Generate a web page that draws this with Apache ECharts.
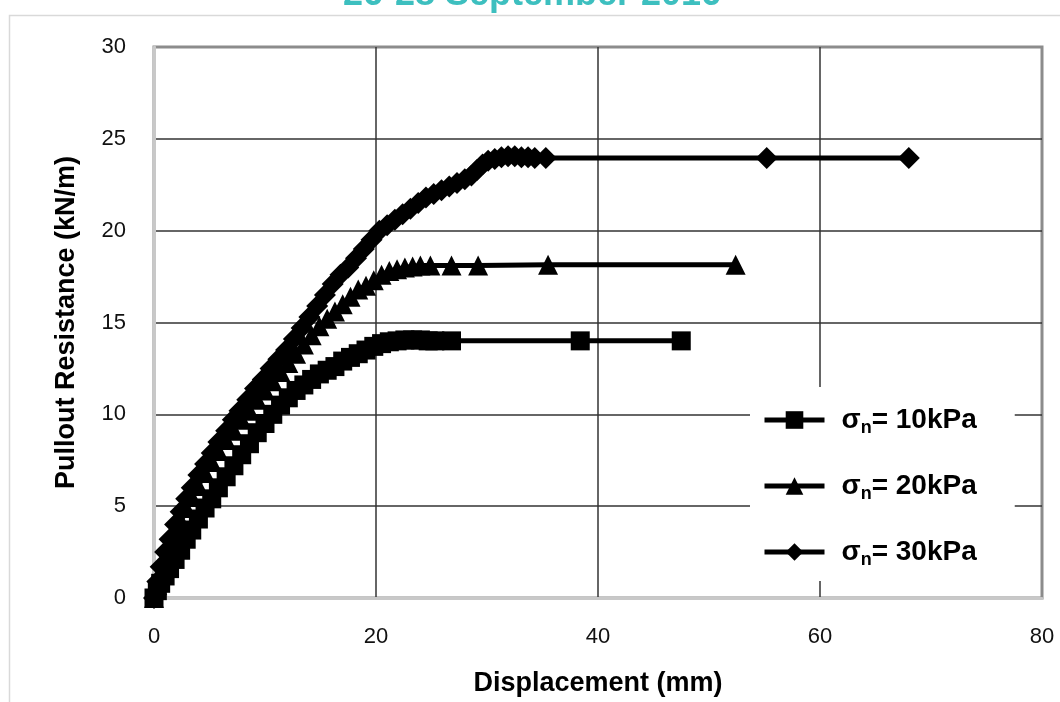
<!DOCTYPE html>
<html>
<head>
<meta charset="utf-8">
<script src="https://cdn.jsdelivr.net/npm/echarts@6/dist/echarts.min.js"></script>
<style>
html, body { margin: 0; padding: 0; background: #fff; }
#chart { width: 1060px; height: 702px; }
</style>
</head>
<body>
<div id="chart"></div>
<script>
// displacement (mm) and pullout resistance (kN/m)
const disp10 = [0, 0.3, 0.6, 1.0, 1.4, 1.9, 2.4, 2.9, 3.4, 4.0, 4.6, 5.2, 5.8, 6.5, 7.2, 7.9, 8.6, 9.3, 10.0, 10.7, 11.4, 12.1, 12.8, 13.5, 14.2, 14.9, 15.6, 16.3, 17.0, 17.7, 18.4, 19.1, 19.8, 20.5, 21.2, 21.9, 22.6, 23.3, 24.0, 24.7, 25.3, 26.8, 38.4, 47.5]
const res10 = [0, 0.4, 0.8, 1.2, 1.6, 2.1, 2.6, 3.2, 3.7, 4.3, 4.9, 5.4, 6.0, 6.6, 7.2, 7.8, 8.4, 9.0, 9.5, 10.0, 10.5, 10.9, 11.3, 11.6, 11.9, 12.2, 12.4, 12.6, 12.9, 13.1, 13.3, 13.5, 13.7, 13.85, 13.95, 14.0, 14.05, 14.05, 14.05, 14.0, 14.0, 14.0, 14.0, 14.0]

const disp20 = [0, 0.3, 0.6, 1.0, 1.4, 1.9, 2.4, 2.9, 3.4, 4.0, 4.6, 5.2, 5.8, 6.5, 7.2, 7.9, 8.6, 9.3, 10.0, 10.7, 11.4, 12.1, 12.8, 13.5, 14.2, 14.9, 15.6, 16.3, 17.0, 17.7, 18.4, 19.1, 19.8, 20.5, 21.2, 21.9, 22.6, 23.3, 24.0, 24.9, 26.8, 29.2, 35.5, 52.4]
const res20 = [0, 0.7, 1.4, 2.1, 2.8, 3.6, 4.2, 4.9, 5.5, 6.1, 6.8, 7.4, 8.0, 8.6, 9.1, 9.7, 10.2, 10.8, 11.3, 11.8, 12.3, 12.8, 13.3, 13.8, 14.3, 14.8, 15.2, 15.6, 16.0, 16.4, 16.8, 17.0, 17.3, 17.6, 17.8, 17.9, 18.0, 18.05, 18.1, 18.1, 18.1, 18.1, 18.15, 18.15]

const disp30 = [0, 0.3, 0.6, 1.0, 1.4, 1.9, 2.4, 2.9, 3.4, 4.0, 4.6, 5.2, 5.8, 6.5, 7.1, 7.7, 8.4, 9.1, 9.8, 10.5, 11.2, 11.9, 12.6, 13.3, 14.0, 14.7, 15.4, 16.1, 16.8, 17.5, 18.2, 18.9, 19.6, 20.3, 21.0, 21.7, 22.4, 23.1, 23.8, 24.5, 25.2, 25.9, 26.6, 27.3, 28.0, 28.6, 29.1, 29.6, 30.1, 30.7, 31.3, 31.9, 32.5, 33.1, 33.7, 34.3, 35.3, 55.2, 68.0]
const res30 = [0, 0.9, 1.7, 2.5, 3.2, 4.0, 4.7, 5.4, 6.0, 6.7, 7.3, 7.9, 8.5, 9.1, 9.7, 10.2, 10.8, 11.4, 11.9, 12.5, 13.0, 13.5, 14.1, 14.7, 15.3, 15.9, 16.5, 17.1, 17.6, 18.0, 18.5, 19.0, 19.5, 20.0, 20.3, 20.6, 20.9, 21.2, 21.5, 21.8, 22.0, 22.2, 22.4, 22.6, 22.8, 23.0, 23.3, 23.6, 23.8, 23.9, 24.0, 24.05, 24.05, 24.0, 24.0, 23.95, 23.95, 23.95, 23.95]

const seriesNames = ['10kPa', '20kPa', '30kPa']
const titleText = '26-28 September 2016'

const font = 'Liberation Sans'
let pairs = (xs, ys) => xs.map((x, i) => [x, ys[i]])

let makeSeries = (name, data, symbol, size) => {
    return {
        name: name,
        type: 'line',
        data: data,
        symbol: symbol,
        symbolSize: size,
        showAllSymbol: true,
        animation: false,
        itemStyle: { color: '#000' },
        lineStyle: { color: '#000', width: 5 },
    }
}

const gridLine = '#333'
let myChart = echarts.init(document.getElementById('chart'))
let option = {
    backgroundColor: '#fff',
    graphic: [
        {
            type: 'rect',
            left: 7, top: 13,
            shape: { width: 1100, height: 800 },
            style: { fill: 'none', stroke: '#d9d9d9', lineWidth: 1.5 },
            z: -10
        },
        {
            type: 'text',
            x: 532, y: 13,
            style: {
                text: titleText,
                fill: '#3dbfbf',
                font: 'bold 36px "' + font + '"',
                align: 'center',
                verticalAlign: 'bottom'
            }
        }
    ],
    grid: {
        left: 154, right: 18, top: 47, bottom: 100,
        show: true,
        borderColor: '#8c8c8c',
        borderWidth: 3
    },
    legend: {
        orient: 'vertical',
        left: 750, top: 387,
        backgroundColor: '#fff',
        padding: [19, 38, 12, 12],
        itemWidth: 60,
        itemHeight: 22,
        itemGap: 35,
        data: seriesNames,
        lineStyle: { color: '#000', width: 5 },
        formatter: function (name) {
            return '{s|σ}{n|n}{s|= ' + name + '}'
        },
        textStyle: {
            color: '#000',
            padding: [0, 0, 0, 12],
            rich: {
                s: { fontFamily: font, fontSize: 28, fontWeight: 'bold', color: '#000' },
                n: { fontFamily: font, fontSize: 18, fontWeight: 'bold', color: '#000', padding: [16, 0, 0, 0] }
            }
        }
    },
    xAxis: {
        type: 'value',
        min: 0, max: 80, interval: 20,
        name: 'Displacement (mm)',
        nameLocation: 'middle',
        nameGap: 72,
        nameTextStyle: { fontFamily: font, fontSize: 27, fontWeight: 'bold', color: '#000' },
        axisLine: { show: true, lineStyle: { color: '#c8c8c8', width: 3 } },
        axisTick: { show: false },
        axisLabel: { fontFamily: font, fontSize: 22, color: '#111', margin: 28 },
        splitLine: {
            show: true,
            lineStyle: { color: ['rgba(0,0,0,0)', gridLine, gridLine, gridLine, 'rgba(0,0,0,0)'], width: 1.5 }
        }
    },
    yAxis: {
        type: 'value',
        min: 0, max: 30, interval: 5,
        name: 'Pullout Resistance (kN/m)',
        nameLocation: 'middle',
        nameGap: 74,
        nameTextStyle: { fontFamily: font, fontSize: 27, fontWeight: 'bold', color: '#000' },
        axisLine: { show: true, lineStyle: { color: '#c8c8c8', width: 3 } },
        axisTick: { show: false },
        axisLabel: { fontFamily: font, fontSize: 22, color: '#111', margin: 28 },
        splitLine: {
            show: true,
            lineStyle: { color: ['rgba(0,0,0,0)', gridLine, gridLine, gridLine, gridLine, gridLine, 'rgba(0,0,0,0)'], width: 1.5 }
        }
    },
    series: [
        makeSeries(seriesNames[0], pairs(disp10, res10), 'rect', 19),
        makeSeries(seriesNames[1], pairs(disp20, res20), 'triangle', 20),
        makeSeries(seriesNames[2], pairs(disp30, res30), 'diamond', 22)
    ]
}
option && myChart.setOption(option)
</script>
</body>
</html>
